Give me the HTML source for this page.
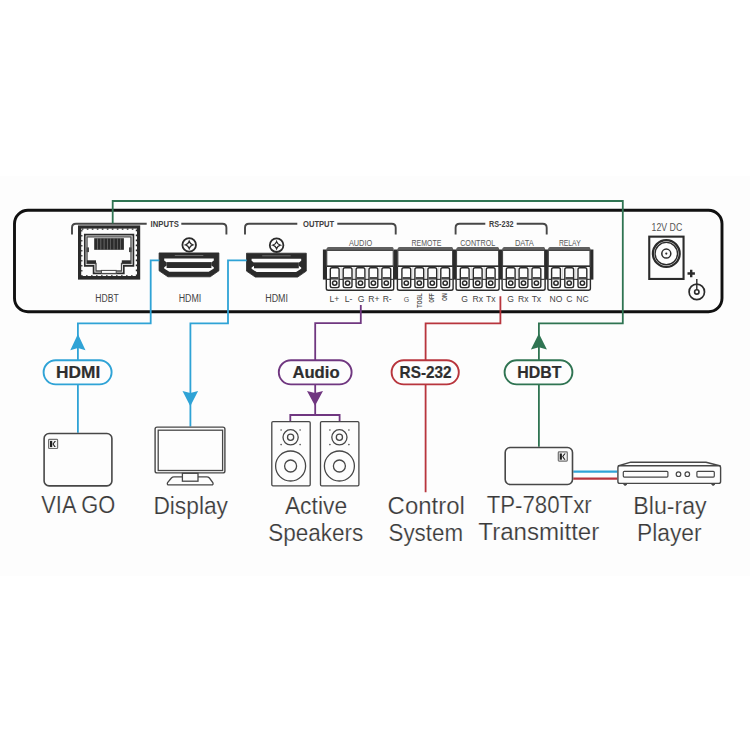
<!DOCTYPE html>
<html><head><meta charset="utf-8"><style>
html,body{margin:0;padding:0;background:#fff;width:750px;height:750px;overflow:hidden}
svg{display:block}
text{font-family:"Liberation Sans",sans-serif}
</style></head><body>
<svg width="750" height="750" viewBox="0 0 750 750">
<rect width="750" height="750" fill="#fff"/>
<rect x="0" y="176" width="750" height="400" fill="#fdfdfd"/>
<rect x="14.5" y="210.2" width="707.5" height="101.6" rx="13.5" fill="#fdfdfd" stroke="#111" stroke-width="2.9"/>
<path d="M72,234.5 V227.8 Q72,223.8 76,223.8 H146.7 M181.3,223.8 H222.4 Q226.4,223.8 226.4,227.8 V234.5" fill="none" stroke="#474747" stroke-width="1.9"/>
<text x="150.6" y="226.6" font-size="8.2" fill="#404040" font-weight="bold" text-anchor="start" textLength="28.2" lengthAdjust="spacingAndGlyphs" >INPUTS</text>
<path d="M245,234.5 V227.8 Q245,223.8 249,223.8 H297.3 M337.3,223.8 H391.7 Q395.7,223.8 395.7,227.8 V234.5" fill="none" stroke="#474747" stroke-width="1.9"/>
<text x="303.0" y="226.6" font-size="8.2" fill="#404040" font-weight="bold" text-anchor="start" textLength="31.2" lengthAdjust="spacingAndGlyphs" >OUTPUT</text>
<path d="M455.6,234.5 V227.8 Q455.6,223.8 459.6,223.8 H485.3 M516.7,223.8 H542.7 Q546.7,223.8 546.7,227.8 V234.5" fill="none" stroke="#474747" stroke-width="1.9"/>
<text x="488.9" y="226.6" font-size="8.2" fill="#404040" font-weight="bold" text-anchor="start" textLength="24.6" lengthAdjust="spacingAndGlyphs" >RS-232</text>
<rect x="79.6" y="227" width="59" height="51" fill="none" stroke="#2b2b2b" stroke-width="3.2"/>
<rect x="81.8" y="229.2" width="54.6" height="46.6" fill="none" stroke="#2b2b2b" stroke-width="1.2" stroke-dasharray="1.6 3.4"/>
<rect x="80.5" y="276" width="57" height="2.5" fill="#2b2b2b"/>
<path d="M84.8,234.6 H133.4 V265.8 H123.8 V273.4 H93.6 V265.8 H84.8 Z" fill="#fdfdfd" stroke="#2b2b2b" stroke-width="1.7"/>
<path d="M87,236.8 H131 V263.5 H121.5 V271 H96 V263.5 H87 Z" fill="#fdfdfd" stroke="#474747" stroke-width="1.3"/>
<rect x="94.2" y="238.2" width="29.7" height="11.6" fill="#2b2b2b"/>
<line x1="97.50" y1="238.5" x2="97.50" y2="249.5" stroke="#fff" stroke-width="0.5" opacity="0.55"/>
<line x1="100.80" y1="238.5" x2="100.80" y2="249.5" stroke="#fff" stroke-width="0.5" opacity="0.55"/>
<line x1="104.10" y1="238.5" x2="104.10" y2="249.5" stroke="#fff" stroke-width="0.5" opacity="0.55"/>
<line x1="107.40" y1="238.5" x2="107.40" y2="249.5" stroke="#fff" stroke-width="0.5" opacity="0.55"/>
<line x1="110.70" y1="238.5" x2="110.70" y2="249.5" stroke="#fff" stroke-width="0.5" opacity="0.55"/>
<line x1="114.00" y1="238.5" x2="114.00" y2="249.5" stroke="#fff" stroke-width="0.5" opacity="0.55"/>
<line x1="117.30" y1="238.5" x2="117.30" y2="249.5" stroke="#fff" stroke-width="0.5" opacity="0.55"/>
<line x1="120.60" y1="238.5" x2="120.60" y2="249.5" stroke="#fff" stroke-width="0.5" opacity="0.55"/>
<rect x="86.5" y="247.4" width="2.5" height="4.7" fill="#474747"/>
<rect x="129" y="247.4" width="2.5" height="4.7" fill="#474747"/>
<rect x="87" y="260.3" width="9" height="3" fill="#2b2b2b"/>
<rect x="121.8" y="260.3" width="9" height="3" fill="#2b2b2b"/>
<rect x="101.4" y="270.4" width="14.8" height="3" fill="#fdfdfd" stroke="#474747" stroke-width="1"/>
<path d="M159.1,252.9 H218.89999999999998 V270.8 L210.2,276.8 H167.9 L159.1,270.8 Z" fill="#2b2b2b" stroke="#2b2b2b" stroke-width="0.8" stroke-linejoin="round"/>
<path d="M164.2,258.4 H213.79999999999998 V260.5 L211.29999999999998,262.5 V265.5 L213.79999999999998,267.3 V268.5 L208.7,271.8 H169.29999999999998 L164.2,268.5 V267.3 L166.7,265.5 V262.5 L164.2,260.5 Z" fill="#fdfdfd"/>
<rect x="166.6" y="262.1" width="44.8" height="5.9" fill="#2b2b2b"/>
<line x1="174.79999999999998" y1="255.5" x2="203.3" y2="255.5" stroke="#fff" stroke-width="0.6" opacity="0.5"/>
<circle cx="189.2" cy="244.9" r="6.8" fill="#fdfdfd" stroke="#2b2b2b" stroke-width="1.8"/>
<path d="M189.2,241.3 Q190.1,244.0 192.79999999999998,244.9 Q190.1,245.8 189.2,248.5 Q188.29999999999998,245.8 185.6,244.9 Q188.29999999999998,244.0 189.2,241.3 Z" fill="none" stroke="#2b2b2b" stroke-width="1.3"/>
<path d="M246.5,253.2 H306.3 V271.09999999999997 L297.6,277.09999999999997 H255.3 L246.5,271.09999999999997 Z" fill="#2b2b2b" stroke="#2b2b2b" stroke-width="0.8" stroke-linejoin="round"/>
<path d="M251.6,258.7 H301.2 V260.8 L298.7,262.8 V265.8 L301.2,267.59999999999997 V268.8 L296.1,272.09999999999997 H256.7 L251.6,268.8 V267.59999999999997 L254.1,265.8 V262.8 L251.6,260.8 Z" fill="#fdfdfd"/>
<rect x="254.0" y="262.4" width="44.8" height="5.9" fill="#2b2b2b"/>
<line x1="262.2" y1="255.79999999999998" x2="290.7" y2="255.79999999999998" stroke="#fff" stroke-width="0.6" opacity="0.5"/>
<circle cx="276.6" cy="245.2" r="6.8" fill="#fdfdfd" stroke="#2b2b2b" stroke-width="1.8"/>
<path d="M276.6,241.6 Q277.5,244.29999999999998 280.20000000000005,245.2 Q277.5,246.1 276.6,248.79999999999998 Q275.70000000000005,246.1 273.0,245.2 Q275.70000000000005,244.29999999999998 276.6,241.6 Z" fill="none" stroke="#2b2b2b" stroke-width="1.3"/>
<text x="95.3" y="302" font-size="10.0" fill="#444" font-weight="normal" text-anchor="start" textLength="23.4" lengthAdjust="spacingAndGlyphs" >HDBT</text>
<text x="178.7" y="302" font-size="10.0" fill="#444" font-weight="normal" text-anchor="start" textLength="22.6" lengthAdjust="spacingAndGlyphs" >HDMI</text>
<text x="265.3" y="302" font-size="10.0" fill="#444" font-weight="normal" text-anchor="start" textLength="22.7" lengthAdjust="spacingAndGlyphs" >HDMI</text>
<rect x="322.9" y="249.5" width="3.9" height="30.1" fill="#2b2b2b"/>
<path d="M326.2,251 Q326.2,247 328.7,247 H392.3 Q393.8,247 393.8,250.5 Z" fill="#606060"/>
<path d="M326.3,266.2 V288.4 Q326.3,290.2 328.3,290.2 H391.7 Q393.7,290.2 393.7,288.4 V266.2" fill="#fdfdfd" stroke="#2b2b2b" stroke-width="1.4"/>
<rect x="326.7" y="250.4" width="66.60000000000002" height="15.9" fill="#fdfdfd" stroke="#474747" stroke-width="1.2"/>
<line x1="326.7" y1="266.2" x2="393.3" y2="266.2" stroke="#2b2b2b" stroke-width="1.5"/>
<line x1="326.7" y1="279.4" x2="393.3" y2="279.4" stroke="#474747" stroke-width="1.1"/>
<rect x="330.3" y="267.7" width="8.8" height="19.9" rx="1.8" fill="#fdfdfd" stroke="#2b2b2b" stroke-width="1.4"/>
<rect x="330.9" y="277" width="7.6" height="2.6" fill="#4a4a4a"/>
<circle cx="334.7" cy="283.1" r="2.2" fill="#fdfdfd" stroke="#2b2b2b" stroke-width="1.5"/>
<line x1="341.15" y1="267" x2="341.15" y2="279" stroke="#bbb" stroke-width="0.6"/>
<rect x="343.20000000000005" y="267.7" width="8.8" height="19.9" rx="1.8" fill="#fdfdfd" stroke="#2b2b2b" stroke-width="1.4"/>
<rect x="343.8" y="277" width="7.6" height="2.6" fill="#4a4a4a"/>
<circle cx="347.6" cy="283.1" r="2.2" fill="#fdfdfd" stroke="#2b2b2b" stroke-width="1.5"/>
<line x1="354.05" y1="267" x2="354.05" y2="279" stroke="#bbb" stroke-width="0.6"/>
<rect x="356.1" y="267.7" width="8.8" height="19.9" rx="1.8" fill="#fdfdfd" stroke="#2b2b2b" stroke-width="1.4"/>
<rect x="356.7" y="277" width="7.6" height="2.6" fill="#4a4a4a"/>
<circle cx="360.5" cy="283.1" r="2.2" fill="#fdfdfd" stroke="#2b2b2b" stroke-width="1.5"/>
<line x1="366.95" y1="267" x2="366.95" y2="279" stroke="#bbb" stroke-width="0.6"/>
<rect x="369.0" y="267.7" width="8.8" height="19.9" rx="1.8" fill="#fdfdfd" stroke="#2b2b2b" stroke-width="1.4"/>
<rect x="369.59999999999997" y="277" width="7.6" height="2.6" fill="#4a4a4a"/>
<circle cx="373.4" cy="283.1" r="2.2" fill="#fdfdfd" stroke="#2b2b2b" stroke-width="1.5"/>
<line x1="379.85" y1="267" x2="379.85" y2="279" stroke="#bbb" stroke-width="0.6"/>
<rect x="381.90000000000003" y="267.7" width="8.8" height="19.9" rx="1.8" fill="#fdfdfd" stroke="#2b2b2b" stroke-width="1.4"/>
<rect x="382.5" y="277" width="7.6" height="2.6" fill="#4a4a4a"/>
<circle cx="386.3" cy="283.1" r="2.2" fill="#fdfdfd" stroke="#2b2b2b" stroke-width="1.5"/>
<text x="348.9" y="245.9" font-size="8.7" fill="#5a5a5a" font-weight="normal" text-anchor="start" textLength="23.3" lengthAdjust="spacingAndGlyphs" >AUDIO</text>
<rect x="394.0" y="249.5" width="3.9" height="30.1" fill="#2b2b2b"/>
<path d="M397.3,251 Q397.3,247 399.8,247 H451.7 Q453.2,247 453.2,250.5 Z" fill="#606060"/>
<path d="M397.40000000000003,266.2 V288.4 Q397.40000000000003,290.2 399.40000000000003,290.2 H451.09999999999997 Q453.09999999999997,290.2 453.09999999999997,288.4 V266.2" fill="#fdfdfd" stroke="#2b2b2b" stroke-width="1.4"/>
<rect x="397.8" y="250.4" width="54.89999999999998" height="15.9" fill="#fdfdfd" stroke="#474747" stroke-width="1.2"/>
<line x1="397.8" y1="266.2" x2="452.7" y2="266.2" stroke="#2b2b2b" stroke-width="1.5"/>
<line x1="397.8" y1="279.4" x2="452.7" y2="279.4" stroke="#474747" stroke-width="1.1"/>
<rect x="401.90000000000003" y="267.7" width="8.8" height="19.9" rx="1.8" fill="#fdfdfd" stroke="#2b2b2b" stroke-width="1.4"/>
<rect x="402.5" y="277" width="7.6" height="2.6" fill="#4a4a4a"/>
<circle cx="406.3" cy="283.1" r="2.2" fill="#fdfdfd" stroke="#2b2b2b" stroke-width="1.5"/>
<line x1="412.8" y1="267" x2="412.8" y2="279" stroke="#bbb" stroke-width="0.6"/>
<rect x="414.90000000000003" y="267.7" width="8.8" height="19.9" rx="1.8" fill="#fdfdfd" stroke="#2b2b2b" stroke-width="1.4"/>
<rect x="415.5" y="277" width="7.6" height="2.6" fill="#4a4a4a"/>
<circle cx="419.3" cy="283.1" r="2.2" fill="#fdfdfd" stroke="#2b2b2b" stroke-width="1.5"/>
<line x1="425.8" y1="267" x2="425.8" y2="279" stroke="#bbb" stroke-width="0.6"/>
<rect x="427.90000000000003" y="267.7" width="8.8" height="19.9" rx="1.8" fill="#fdfdfd" stroke="#2b2b2b" stroke-width="1.4"/>
<rect x="428.5" y="277" width="7.6" height="2.6" fill="#4a4a4a"/>
<circle cx="432.3" cy="283.1" r="2.2" fill="#fdfdfd" stroke="#2b2b2b" stroke-width="1.5"/>
<line x1="438.75" y1="267" x2="438.75" y2="279" stroke="#bbb" stroke-width="0.6"/>
<rect x="440.8" y="267.7" width="8.8" height="19.9" rx="1.8" fill="#fdfdfd" stroke="#2b2b2b" stroke-width="1.4"/>
<rect x="441.4" y="277" width="7.6" height="2.6" fill="#4a4a4a"/>
<circle cx="445.2" cy="283.1" r="2.2" fill="#fdfdfd" stroke="#2b2b2b" stroke-width="1.5"/>
<text x="411.5" y="245.9" font-size="8.7" fill="#5a5a5a" font-weight="normal" text-anchor="start" textLength="29.8" lengthAdjust="spacingAndGlyphs" >REMOTE</text>
<rect x="452.7" y="249.5" width="3.9" height="30.1" fill="#2b2b2b"/>
<path d="M456.0,251 Q456.0,247 458.5,247 H497.7 Q499.2,247 499.2,250.5 Z" fill="#606060"/>
<path d="M456.1,266.2 V288.4 Q456.1,290.2 458.1,290.2 H497.09999999999997 Q499.09999999999997,290.2 499.09999999999997,288.4 V266.2" fill="#fdfdfd" stroke="#2b2b2b" stroke-width="1.4"/>
<rect x="456.5" y="250.4" width="42.19999999999999" height="15.9" fill="#fdfdfd" stroke="#474747" stroke-width="1.2"/>
<line x1="456.5" y1="266.2" x2="498.7" y2="266.2" stroke="#2b2b2b" stroke-width="1.5"/>
<line x1="456.5" y1="279.4" x2="498.7" y2="279.4" stroke="#474747" stroke-width="1.1"/>
<rect x="460.3" y="267.7" width="8.8" height="19.9" rx="1.8" fill="#fdfdfd" stroke="#2b2b2b" stroke-width="1.4"/>
<rect x="460.9" y="277" width="7.6" height="2.6" fill="#4a4a4a"/>
<circle cx="464.7" cy="283.1" r="2.2" fill="#fdfdfd" stroke="#2b2b2b" stroke-width="1.5"/>
<line x1="471.2" y1="267" x2="471.2" y2="279" stroke="#bbb" stroke-width="0.6"/>
<rect x="473.3" y="267.7" width="8.8" height="19.9" rx="1.8" fill="#fdfdfd" stroke="#2b2b2b" stroke-width="1.4"/>
<rect x="473.9" y="277" width="7.6" height="2.6" fill="#4a4a4a"/>
<circle cx="477.7" cy="283.1" r="2.2" fill="#fdfdfd" stroke="#2b2b2b" stroke-width="1.5"/>
<line x1="484.2" y1="267" x2="484.2" y2="279" stroke="#bbb" stroke-width="0.6"/>
<rect x="486.3" y="267.7" width="8.8" height="19.9" rx="1.8" fill="#fdfdfd" stroke="#2b2b2b" stroke-width="1.4"/>
<rect x="486.9" y="277" width="7.6" height="2.6" fill="#4a4a4a"/>
<circle cx="490.7" cy="283.1" r="2.2" fill="#fdfdfd" stroke="#2b2b2b" stroke-width="1.5"/>
<text x="460.2" y="245.9" font-size="8.7" fill="#5a5a5a" font-weight="normal" text-anchor="start" textLength="35.0" lengthAdjust="spacingAndGlyphs" >CONTROL</text>
<rect x="498.7" y="249.5" width="3.9" height="30.1" fill="#2b2b2b"/>
<path d="M502.0,251 Q502.0,247 504.5,247 H543.7 Q545.2,247 545.2,250.5 Z" fill="#606060"/>
<path d="M502.1,266.2 V288.4 Q502.1,290.2 504.1,290.2 H543.1 Q545.1,290.2 545.1,288.4 V266.2" fill="#fdfdfd" stroke="#2b2b2b" stroke-width="1.4"/>
<rect x="502.5" y="250.4" width="42.200000000000045" height="15.9" fill="#fdfdfd" stroke="#474747" stroke-width="1.2"/>
<line x1="502.5" y1="266.2" x2="544.7" y2="266.2" stroke="#2b2b2b" stroke-width="1.5"/>
<line x1="502.5" y1="279.4" x2="544.7" y2="279.4" stroke="#474747" stroke-width="1.1"/>
<rect x="506.3" y="267.7" width="8.8" height="19.9" rx="1.8" fill="#fdfdfd" stroke="#2b2b2b" stroke-width="1.4"/>
<rect x="506.9" y="277" width="7.6" height="2.6" fill="#4a4a4a"/>
<circle cx="510.7" cy="283.1" r="2.2" fill="#fdfdfd" stroke="#2b2b2b" stroke-width="1.5"/>
<line x1="517.1" y1="267" x2="517.1" y2="279" stroke="#bbb" stroke-width="0.6"/>
<rect x="519.1" y="267.7" width="8.8" height="19.9" rx="1.8" fill="#fdfdfd" stroke="#2b2b2b" stroke-width="1.4"/>
<rect x="519.7" y="277" width="7.6" height="2.6" fill="#4a4a4a"/>
<circle cx="523.5" cy="283.1" r="2.2" fill="#fdfdfd" stroke="#2b2b2b" stroke-width="1.5"/>
<line x1="529.95" y1="267" x2="529.95" y2="279" stroke="#bbb" stroke-width="0.6"/>
<rect x="532.0" y="267.7" width="8.8" height="19.9" rx="1.8" fill="#fdfdfd" stroke="#2b2b2b" stroke-width="1.4"/>
<rect x="532.6" y="277" width="7.6" height="2.6" fill="#4a4a4a"/>
<circle cx="536.4" cy="283.1" r="2.2" fill="#fdfdfd" stroke="#2b2b2b" stroke-width="1.5"/>
<text x="514.9" y="245.9" font-size="8.7" fill="#5a5a5a" font-weight="normal" text-anchor="start" textLength="19.0" lengthAdjust="spacingAndGlyphs" >DATA</text>
<rect x="544.5" y="249.5" width="3.9" height="30.1" fill="#2b2b2b"/>
<rect x="590.0" y="249.5" width="3.4" height="30.1" fill="#2b2b2b"/>
<path d="M547.8,251 Q547.8,247 550.3,247 H589.0 Q590.5,247 590.5,250.5 Z" fill="#606060"/>
<path d="M547.9,266.2 V288.4 Q547.9,290.2 549.9,290.2 H588.4 Q590.4,290.2 590.4,288.4 V266.2" fill="#fdfdfd" stroke="#2b2b2b" stroke-width="1.4"/>
<rect x="548.3" y="250.4" width="41.700000000000045" height="15.9" fill="#fdfdfd" stroke="#474747" stroke-width="1.2"/>
<line x1="548.3" y1="266.2" x2="590.0" y2="266.2" stroke="#2b2b2b" stroke-width="1.5"/>
<line x1="548.3" y1="279.4" x2="590.0" y2="279.4" stroke="#474747" stroke-width="1.1"/>
<rect x="551.6" y="267.7" width="8.8" height="19.9" rx="1.8" fill="#fdfdfd" stroke="#2b2b2b" stroke-width="1.4"/>
<rect x="552.2" y="277" width="7.6" height="2.6" fill="#4a4a4a"/>
<circle cx="556.0" cy="283.1" r="2.2" fill="#fdfdfd" stroke="#2b2b2b" stroke-width="1.5"/>
<line x1="562.6" y1="267" x2="562.6" y2="279" stroke="#bbb" stroke-width="0.6"/>
<rect x="564.8000000000001" y="267.7" width="8.8" height="19.9" rx="1.8" fill="#fdfdfd" stroke="#2b2b2b" stroke-width="1.4"/>
<rect x="565.4000000000001" y="277" width="7.6" height="2.6" fill="#4a4a4a"/>
<circle cx="569.2" cy="283.1" r="2.2" fill="#fdfdfd" stroke="#2b2b2b" stroke-width="1.5"/>
<line x1="575.8" y1="267" x2="575.8" y2="279" stroke="#bbb" stroke-width="0.6"/>
<rect x="578.0" y="267.7" width="8.8" height="19.9" rx="1.8" fill="#fdfdfd" stroke="#2b2b2b" stroke-width="1.4"/>
<rect x="578.6" y="277" width="7.6" height="2.6" fill="#4a4a4a"/>
<circle cx="582.4" cy="283.1" r="2.2" fill="#fdfdfd" stroke="#2b2b2b" stroke-width="1.5"/>
<text x="558.9" y="245.9" font-size="8.7" fill="#5a5a5a" font-weight="normal" text-anchor="start" textLength="21.8" lengthAdjust="spacingAndGlyphs" >RELAY</text>
<text x="334.3" y="301.8" font-size="8.6" fill="#444" font-weight="normal" text-anchor="middle" >L+</text>
<text x="348.5" y="301.8" font-size="8.6" fill="#444" font-weight="normal" text-anchor="middle" >L-</text>
<text x="361.0" y="301.8" font-size="8.6" fill="#444" font-weight="normal" text-anchor="middle" >G</text>
<text x="373.8" y="301.8" font-size="8.6" fill="#444" font-weight="normal" text-anchor="middle" >R+</text>
<text x="387.2" y="301.8" font-size="8.6" fill="#444" font-weight="normal" text-anchor="middle" >R-</text>
<text x="464.7" y="301.8" font-size="8.6" fill="#444" font-weight="normal" text-anchor="middle" >G</text>
<text x="477.7" y="301.8" font-size="8.6" fill="#444" font-weight="normal" text-anchor="middle" >Rx</text>
<text x="490.7" y="301.8" font-size="8.6" fill="#444" font-weight="normal" text-anchor="middle" >Tx</text>
<text x="510.7" y="301.8" font-size="8.6" fill="#444" font-weight="normal" text-anchor="middle" >G</text>
<text x="523.3" y="301.8" font-size="8.6" fill="#444" font-weight="normal" text-anchor="middle" >Rx</text>
<text x="536.4" y="301.8" font-size="8.6" fill="#444" font-weight="normal" text-anchor="middle" >Tx</text>
<text x="556.0" y="301.8" font-size="8.6" fill="#444" font-weight="normal" text-anchor="middle" >NO</text>
<text x="569.3" y="301.8" font-size="8.6" fill="#444" font-weight="normal" text-anchor="middle" >C</text>
<text x="582.4" y="301.8" font-size="8.6" fill="#444" font-weight="normal" text-anchor="middle" >NC</text>
<text x="406.6" y="301.6" font-size="7" fill="#555" font-weight="normal" text-anchor="middle" >G</text>
<text x="0" y="0" font-size="6.6" fill="#555" font-weight="bold" text-anchor="end" textLength="14.5" lengthAdjust="spacingAndGlyphs" transform="translate(421.8,293.2) rotate(-90)">TOGL</text>
<text x="0" y="0" font-size="6.6" fill="#555" font-weight="bold" text-anchor="end" textLength="9.6" lengthAdjust="spacingAndGlyphs" transform="translate(434.3,293.2) rotate(-90)">OFF</text>
<text x="0" y="0" font-size="6.6" fill="#555" font-weight="bold" text-anchor="end" textLength="7.8" lengthAdjust="spacingAndGlyphs" transform="translate(447.1,293.2) rotate(-90)">ON</text>
<rect x="649.25" y="236.65" width="34.3" height="42.3" fill="#fdfdfd" stroke="#2b2b2b" stroke-width="2.1"/>
<circle cx="666.3" cy="253.6" r="13.4" fill="none" stroke="#2b2b2b" stroke-width="2.2"/>
<circle cx="666.3" cy="253.6" r="11.2" fill="none" stroke="#2b2b2b" stroke-width="1.4"/>
<circle cx="666.3" cy="253.6" r="4.5" fill="none" stroke="#2b2b2b" stroke-width="1.5"/>
<circle cx="666.3" cy="253.6" r="1.1" fill="#2b2b2b"/>
<text x="651.6" y="231.3" font-size="10.4" fill="#555" font-weight="normal" text-anchor="start" textLength="30.6" lengthAdjust="spacingAndGlyphs" >12V DC</text>
<path d="M687.5,273.5 H694.9 M691.2,269.8 V277.2" stroke="#2b2b2b" stroke-width="2.4"/>
<circle cx="696.8" cy="291.9" r="7.7" fill="none" stroke="#2b2b2b" stroke-width="1.7"/>
<circle cx="696.8" cy="291.9" r="2.2" fill="none" stroke="#2b2b2b" stroke-width="1.6"/>
<line x1="696.8" y1="279.1" x2="696.8" y2="289.7" stroke="#2b2b2b" stroke-width="1.4"/>
<path d="M112.7,223.5 V201 H622.8 V323.3 H538.9 V446.7" fill="none" stroke="#2f7452" stroke-width="1.8"/>
<path d="M159.3,260.4 H150.7 V323.3 H77.9 V432.7" fill="none" stroke="#2fa3d6" stroke-width="1.8"/>
<path d="M246.7,260.4 H228 V323.3 H190.4 V426.4" fill="none" stroke="#2fa3d6" stroke-width="1.8"/>
<path d="M360.8,305 V323.2 H315.2 V415 M290.3,421.3 V415 H339.6 V421.3" fill="none" stroke="#703780" stroke-width="1.8"/>
<path d="M500.4,296.2 V323.3 H425.6 V492.3" fill="none" stroke="#b8353d" stroke-width="1.8"/>
<path d="M573.3,471.6 H617.2" fill="none" stroke="#2fa3d6" stroke-width="2.2"/>
<path d="M573.3,478.7 H617.2" fill="none" stroke="#b8353d" stroke-width="2.2"/>
<path d="M77.9,334.0 L85.5,350.2 L77.9,348.0 L70.30000000000001,350.2 Z" fill="#2fa3d6"/>
<path d="M190.3,406.2 L198.10000000000002,390.9 L190.3,393.09999999999997 L182.5,390.9 Z" fill="#2fa3d6"/>
<path d="M315.0,405.8 L323.0,390.9 L315.0,393.09999999999997 L307.0,390.9 Z" fill="#703780"/>
<path d="M538.9,333.6 L546.9,349.5 L538.9,347.3 L530.9,349.5 Z" fill="#2f7452"/>
<rect x="43.6" y="360.2" width="68.0" height="24.2" rx="12.1" fill="#fdfdfd" stroke="#2fa3d6" stroke-width="1.9"/>
<text x="56.0" y="377.7" font-size="16.4" fill="#2e2e2e" font-weight="bold" text-anchor="start" textLength="44.2" lengthAdjust="spacingAndGlyphs" stroke="#2e2e2e" stroke-width="0.2">HDMI</text>
<rect x="278.8" y="360.2" width="72.80000000000001" height="24.2" rx="12.1" fill="#fdfdfd" stroke="#703780" stroke-width="1.9"/>
<text x="292.4" y="377.7" font-size="16.4" fill="#2e2e2e" font-weight="bold" text-anchor="start" textLength="47.2" lengthAdjust="spacingAndGlyphs" stroke="#2e2e2e" stroke-width="0.2">Audio</text>
<rect x="391.6" y="360.2" width="67.19999999999999" height="24.2" rx="12.1" fill="#fdfdfd" stroke="#b8353d" stroke-width="1.9"/>
<text x="399.6" y="377.7" font-size="16.4" fill="#2e2e2e" font-weight="bold" text-anchor="start" textLength="52.0" lengthAdjust="spacingAndGlyphs" stroke="#2e2e2e" stroke-width="0.2">RS-232</text>
<rect x="504.6" y="360.2" width="67.79999999999995" height="24.2" rx="12.1" fill="#fdfdfd" stroke="#2f7452" stroke-width="1.9"/>
<text x="517.2" y="377.7" font-size="16.4" fill="#2e2e2e" font-weight="bold" text-anchor="start" textLength="44.2" lengthAdjust="spacingAndGlyphs" stroke="#2e2e2e" stroke-width="0.2">HDBT</text>
<rect x="44.1" y="433.5" width="67.8" height="52.4" rx="5" fill="#fdfdfd" stroke="#474747" stroke-width="1.6"/>
<rect x="48.6" y="439.3" width="9" height="9.2" rx="0.8" fill="#f2f2f2" stroke="#707070" stroke-width="1.2"/>
<rect x="50" y="440.9" width="2.2" height="6.2" fill="#1e1e1e"/>
<path d="M52.4,443.9 L54.6,440.9 H56 L53.6,443.9 L55.8,447.09999999999997 H54.4 Z" fill="#1e1e1e"/>
<rect x="155.1" y="427.1" width="69.8" height="45.8" rx="2" fill="#fdfdfd" stroke="#474747" stroke-width="1.4"/>
<rect x="158.2" y="430.2" width="64.4" height="40.3" fill="#fdfdfd" stroke="#474747" stroke-width="1.3"/>
<path d="M174,476.9 H206.8 Q208.4,476.9 209.4,478 L212.8,482.6 Q213.8,484.9 211.4,484.9 H169 Q166.6,484.9 167.6,482.6 L171.4,478 Q172.4,476.9 174,476.9 Z" fill="#fdfdfd" stroke="#474747" stroke-width="1.3"/>
<rect x="182.4" y="473.3" width="15.6" height="7.9" fill="#fdfdfd" stroke="#474747" stroke-width="1.3"/>
<rect x="271.8" y="421.6" width="38.4" height="64.2" rx="1.2" fill="#fdfdfd" stroke="#474747" stroke-width="1.3"/>
<circle cx="290.6" cy="437.3" r="7.6" fill="none" stroke="#474747" stroke-width="1.3"/>
<circle cx="290.6" cy="437.3" r="3.1" fill="none" stroke="#474747" stroke-width="1.3"/>
<circle cx="290.6" cy="466" r="15" fill="none" stroke="#474747" stroke-width="1.3"/>
<circle cx="290.6" cy="466" r="6" fill="none" stroke="#474747" stroke-width="1.3"/>
<circle cx="281.1" cy="430" r="0.8" fill="#474747"/>
<circle cx="281.1" cy="444.6" r="0.8" fill="#474747"/>
<circle cx="300.1" cy="430" r="0.8" fill="#474747"/>
<circle cx="300.1" cy="444.6" r="0.8" fill="#474747"/>
<rect x="320.5" y="421.6" width="38.4" height="64.2" rx="1.2" fill="#fdfdfd" stroke="#474747" stroke-width="1.3"/>
<circle cx="339.4" cy="437.3" r="7.6" fill="none" stroke="#474747" stroke-width="1.3"/>
<circle cx="339.4" cy="437.3" r="3.1" fill="none" stroke="#474747" stroke-width="1.3"/>
<circle cx="339.4" cy="466" r="15" fill="none" stroke="#474747" stroke-width="1.3"/>
<circle cx="339.4" cy="466" r="6" fill="none" stroke="#474747" stroke-width="1.3"/>
<circle cx="329.9" cy="430" r="0.8" fill="#474747"/>
<circle cx="329.9" cy="444.6" r="0.8" fill="#474747"/>
<circle cx="348.9" cy="430" r="0.8" fill="#474747"/>
<circle cx="348.9" cy="444.6" r="0.8" fill="#474747"/>
<rect x="505.2" y="447.5" width="67.3" height="37" rx="5" fill="#fdfdfd" stroke="#474747" stroke-width="1.6"/>
<rect x="558.3000000000001" y="451.90000000000003" width="9" height="9.2" rx="0.8" fill="#f2f2f2" stroke="#707070" stroke-width="1.2"/>
<rect x="559.7" y="453.5" width="2.2" height="6.2" fill="#1e1e1e"/>
<path d="M562.1,456.5 L564.3000000000001,453.5 H565.7 L563.3000000000001,456.5 L565.5,459.7 H564.1 Z" fill="#1e1e1e"/>
<path d="M617.9,466 L630.8,462.2 H706 L720.6,466" fill="none" stroke="#474747" stroke-width="1.4" stroke-linejoin="round"/>
<rect x="617.9" y="465.8" width="102.7" height="17.6" rx="2" fill="#fdfdfd" stroke="#474747" stroke-width="1.4"/>
<rect x="623.3" y="471.3" width="44.6" height="5.8" rx="1" fill="none" stroke="#474747" stroke-width="1.2"/>
<circle cx="678.5" cy="474.2" r="2.3" fill="none" stroke="#474747" stroke-width="1.2"/>
<circle cx="687.3" cy="474.2" r="2.3" fill="none" stroke="#474747" stroke-width="1.2"/>
<rect x="696.9" y="471.3" width="17.4" height="5.8" rx="1" fill="none" stroke="#474747" stroke-width="1.2"/>
<path d="M623.7,483.8 a1.5,1.5 0 0 0 3,0 M711.7,483.8 a1.5,1.5 0 0 0 3,0" fill="#474747" stroke="#474747" stroke-width="1"/>
<text x="41.3" y="513.1" font-size="23" fill="#3a3a3a" font-weight="normal" text-anchor="start" textLength="74.0" lengthAdjust="spacingAndGlyphs" stroke="#fdfdfd" stroke-width="0.2">VIA GO</text>
<text x="153.4" y="513.5" font-size="23" fill="#3a3a3a" font-weight="normal" text-anchor="start" textLength="74.6" lengthAdjust="spacingAndGlyphs" stroke="#fdfdfd" stroke-width="0.2">Display</text>
<text x="284.9" y="513.5" font-size="23" fill="#3a3a3a" font-weight="normal" text-anchor="start" textLength="62.2" lengthAdjust="spacingAndGlyphs" stroke="#fdfdfd" stroke-width="0.2">Active</text>
<text x="268.2" y="540.8" font-size="23" fill="#3a3a3a" font-weight="normal" text-anchor="start" textLength="95.1" lengthAdjust="spacingAndGlyphs" stroke="#fdfdfd" stroke-width="0.2">Speakers</text>
<text x="387.6" y="514.0" font-size="23" fill="#3a3a3a" font-weight="normal" text-anchor="start" textLength="77.2" lengthAdjust="spacingAndGlyphs" stroke="#fdfdfd" stroke-width="0.2">Control</text>
<text x="388.5" y="541.3" font-size="23" fill="#3a3a3a" font-weight="normal" text-anchor="start" textLength="74.5" lengthAdjust="spacingAndGlyphs" stroke="#fdfdfd" stroke-width="0.2">System</text>
<text x="486.7" y="513.3" font-size="23" fill="#3a3a3a" font-weight="normal" text-anchor="start" textLength="105.0" lengthAdjust="spacingAndGlyphs" stroke="#fdfdfd" stroke-width="0.2">TP-780Txr</text>
<text x="478.3" y="540.4" font-size="23" fill="#3a3a3a" font-weight="normal" text-anchor="start" textLength="121.0" lengthAdjust="spacingAndGlyphs" stroke="#fdfdfd" stroke-width="0.2">Transmitter</text>
<text x="633.3" y="514.0" font-size="23" fill="#3a3a3a" font-weight="normal" text-anchor="start" textLength="73.4" lengthAdjust="spacingAndGlyphs" stroke="#fdfdfd" stroke-width="0.2">Blu-ray</text>
<text x="637.0" y="541.3" font-size="23" fill="#3a3a3a" font-weight="normal" text-anchor="start" textLength="64.6" lengthAdjust="spacingAndGlyphs" stroke="#fdfdfd" stroke-width="0.2">Player</text>
</svg>
</body></html>
